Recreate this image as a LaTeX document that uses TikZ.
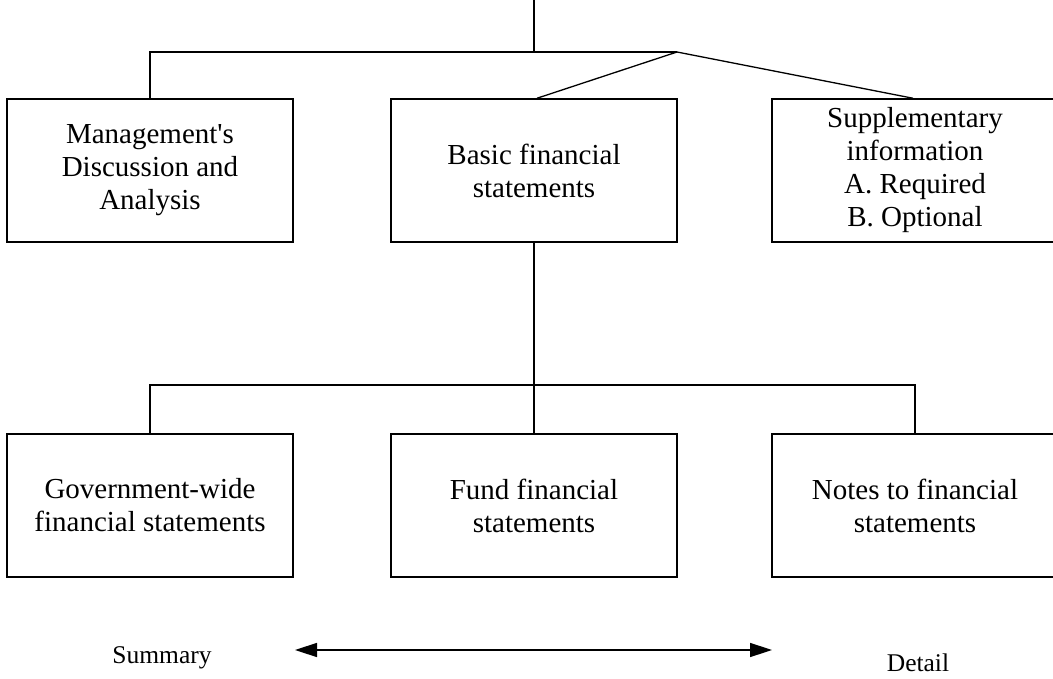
\documentclass[tikz,border=0pt]{standalone}
\usepackage{fontspec}
\setmainfont{Liberation Serif}
\usetikzlibrary{arrows.meta}
\tikzset{
  box/.style={draw, line width=1.5pt, minimum width=286pt, minimum height=143pt,
    align=center, inner sep=0pt, font=\fontsize{29}{33}\selectfont},
  link/.style={line width=1.3pt},
  lbl/.style={font=\fontsize{25.5}{30}\selectfont, inner sep=0pt},
}
\begin{document}
\begin{tikzpicture}[x=1pt,y=-1pt]
\useasboundingbox (0,0) rectangle (1053,679);
\clip (0,0) rectangle (1053,679);
% top row
\node[box] (mda)   at (150,170.5) {Management\textquotesingle s\\Discussion and\\Analysis};
\node[box] (basic) at (534,170.5) {Basic financial\\statements};
\node[box] (supp)  at (915,170.5) {Supplementary\\information\\A. Required\\B. Optional};
% bottom row
\node[box] (gov)   at (150,505.5) {Government-wide\\financial statements};
\node[box] (fund)  at (534,505.5) {Fund financial\\statements};
\node[box] (notes) at (915,505.5) {Notes to financial\\statements};
% connector points
\coordinate (top) at (534,0);
\coordinate (tj)  at (534,52);
\coordinate (jr)  at (677,52);
\coordinate (mj)  at (534,385);
% top connectors
\draw[link] (top) -- (tj);
\draw[link] (mda.north) -- (mda.north |- tj) -- (jr);
\draw[link] (jr) -- ([xshift=3pt]basic.north);
\draw[link] (jr) -- ([xshift=-2pt]supp.north);
% middle connectors
\draw[link] (basic.south) -- (mj) -- (fund.north);
\draw[link] (gov.north) -- (gov.north |- mj) -- (notes.north |- mj) -- (notes.north);
% bottom scale
\node[lbl] (summary) at (162,658) {Summary};
\node[lbl] (detail)  at (918,663) {Detail};
\coordinate (al) at (295,650);
\coordinate (ar) at (772,650);
\draw[link, line width=1.5pt, {Triangle[length=22pt,width=14pt]}-{Triangle[length=22pt,width=14pt]}] (al) -- (ar);
\end{tikzpicture}
\end{document}
